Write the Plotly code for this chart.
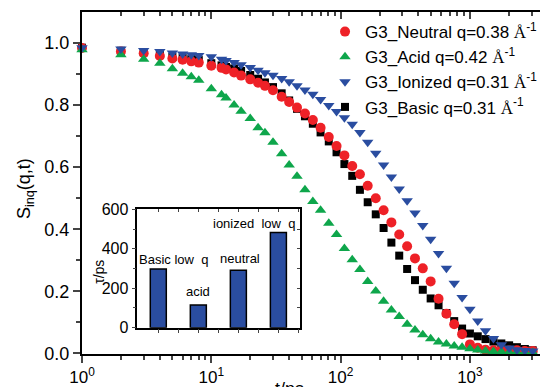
import plotly.graph_objects as go

# time grid (ps)
t = [1, 2, 3, 4, 5, 6, 7, 8, 10, 12, 13, 15, 17, 20, 23, 26, 30, 35, 40, 46,
     53, 61, 70, 81, 93, 107, 123, 141, 162, 187, 215, 247, 284, 327, 376, 432,
     497, 572, 658, 756, 870, 1000, 1150, 1320, 1520, 1750, 2010, 2310, 2660, 3060]

s_neutral = [0.984, 0.973, 0.967, 0.958, 0.950, 0.946, 0.941, 0.937, 0.927, 0.920,
             0.915, 0.905, 0.895, 0.883, 0.872, 0.862, 0.848, 0.827, 0.810, 0.792,
             0.773, 0.752, 0.727, 0.697, 0.668, 0.638, 0.604, 0.577, 0.540, 0.500,
             0.461, 0.422, 0.383, 0.345, 0.306, 0.274, 0.232, 0.176, 0.128, 0.094,
             0.062, 0.029, 0.018, 0.012, 0.010, 0.010, 0.009, 0.010, 0.008, 0.008]

s_acid = [0.978, 0.962, 0.948, 0.935, 0.917, 0.903, 0.891, 0.880, 0.853, 0.833,
          0.823, 0.800, 0.780, 0.757, 0.727, 0.711, 0.680, 0.643, 0.607, 0.571,
          0.527, 0.489, 0.461, 0.419, 0.383, 0.338, 0.302, 0.270, 0.232, 0.201,
          0.168, 0.140, 0.119, 0.094, 0.075, 0.060, 0.047, 0.037, 0.030, 0.024,
          0.020, 0.015, 0.011, 0.008, 0.006, 0.005, 0.004, 0.004, 0.003, 0.003]

s_ionized = [0.985, 0.981, 0.976, 0.973, 0.968, 0.965, 0.962, 0.960, 0.956, 0.948,
             0.944, 0.937, 0.930, 0.921, 0.912, 0.904, 0.896, 0.886, 0.875, 0.862,
             0.849, 0.835, 0.818, 0.799, 0.779, 0.759, 0.738, 0.712, 0.680, 0.645,
             0.607, 0.568, 0.530, 0.492, 0.452, 0.412, 0.368, 0.322, 0.274, 0.226,
             0.180, 0.142, 0.104, 0.073, 0.048, 0.028, 0.017, 0.012, 0.009, 0.008]

s_basic = [0.985, 0.975, 0.970, 0.962, 0.955, 0.952, 0.948, 0.945, 0.935, 0.928,
           0.923, 0.918, 0.910, 0.897, 0.885, 0.873, 0.858, 0.838, 0.815, 0.788,
           0.764, 0.740, 0.712, 0.683, 0.648, 0.610, 0.572, 0.527, 0.487, 0.448,
           0.404, 0.357, 0.315, 0.272, 0.236, 0.205, 0.177, 0.155, 0.130, 0.104,
           0.080, 0.064, 0.055, 0.046, 0.038, 0.032, 0.026, 0.020, 0.014, 0.010]

# inset: relaxation times
tau_pos = [1, 2, 3, 4]
tau_ps = [297, 115, 291, 482]
tau_text = ["Basic\u00a0low\u00a0\u00a0q", "acid", "neutral", "ionized\u00a0\u00a0low\u00a0\u00a0q"]
tau_text_x = [1.38, 2.0, 3.04, 3.39]
tau_text_y = [348, 181, 352, 529]

x_major = [1, 10, 100, 1000]
x_major_text = ["10<sup>0</sup>", "10<sup>1</sup>", "10<sup>2</sup>", "10<sup>3</sup>"]
x_minor = [m * d for d in (1, 10, 100, 1000) for m in range(2, 10)]

RED = "#ee2127"
GREEN = "#0ea64b"
BLUE = "#2a4da0"
BLACK = "#000000"
FONT = "Liberation Sans, Arial, sans-serif"
ANG = "<span style='font-family:Liberation Serif, Times New Roman, serif'>\u00c5</span><sup>-1</sup>"

fig = go.Figure()

series = [
    ("G3_Basic q=0.31 " + ANG, s_basic, BLACK, "square", 8, 4),
    ("G3_Neutral q=0.38 " + ANG, s_neutral, RED, "circle", 10, 1),
    ("G3_Acid q=0.42 " + ANG, s_acid, GREEN, "triangle-up", 10, 2),
    ("G3_Ionized q=0.31 " + ANG, s_ionized, BLUE, "triangle-down", 10, 3),
]
for name, ys, col, sym, size, rank in series:
    fig.add_trace(go.Scatter(
        x=t, y=ys, mode="markers", name=name, legendrank=rank,
        marker=dict(color=col, symbol=sym, size=size, line=dict(width=0)),
        cliponaxis=False, hoverinfo="skip"))

# helper traces so the mirrored tick axes get drawn
fig.add_trace(go.Scatter(x=[1], y=[None], xaxis="x2", yaxis="y",
                         showlegend=False, hoverinfo="skip"))
fig.add_trace(go.Scatter(x=[1], y=[None], xaxis="x4", yaxis="y3",
                         showlegend=False, hoverinfo="skip"))
fig.add_trace(go.Scatter(x=[1], y=[None], xaxis="x3", yaxis="y4",
                         showlegend=False, hoverinfo="skip"))

fig.add_trace(go.Bar(
    x=tau_pos, y=tau_ps, xaxis="x3", yaxis="y3", width=0.4,
    marker=dict(color=BLUE, line=dict(color="black", width=1.5)),
    showlegend=False, hoverinfo="skip"))

XR = [0, 3.542]
INX = [0.1207, 0.476]
INY = [0.0769, 0.4231]

fig.update_layout(
    width=540, height=387,
    margin=dict(l=82, r=0, t=12, b=33, autoexpand=False),
    paper_bgcolor="white", plot_bgcolor="white",
    font=dict(family=FONT, color="black", size=16),
    showlegend=True,
    legend=dict(x=0.5306, y=0.994, xanchor="left", yanchor="top",
                bgcolor="rgba(0,0,0,0)", font=dict(size=17, family=FONT),
                itemsizing="trace", tracegroupgap=0),
    xaxis=dict(type="log", range=XR, showline=True, linewidth=2, linecolor="black",
               mirror=True, ticks="outside", ticklen=7, tickwidth=1.5,
               tickvals=x_major, ticktext=x_major_text, tickfont=dict(size=17),
               minor=dict(ticks="outside", ticklen=4, tickwidth=1.5,
                          tickvals=x_minor, showgrid=False),
               showgrid=False, zeroline=False),
    xaxis2=dict(type="log", range=XR, overlaying="x", side="top", anchor="y",
                ticks="inside", ticklen=7, tickwidth=1.5, tickvals=x_major,
                showticklabels=False, showline=False, showgrid=False, zeroline=False,
                minor=dict(ticks="inside", ticklen=4, tickwidth=1.5,
                           tickvals=x_minor, showgrid=False)),
    yaxis=dict(range=[-0.002, 1.1], showline=True, linewidth=2, linecolor="black",
               mirror=False, ticks="outside", ticklen=7, tickwidth=1.5,
               tickvals=[0, 0.2, 0.4, 0.6, 0.8, 1.0],
               ticktext=["0.0", "0.2", "0.4", "0.6", "0.8", "1.0"],
               tickfont=dict(size=18),
               minor=dict(ticks="outside", ticklen=4, tickwidth=1.5,
                          tickvals=[0.1, 0.3, 0.5, 0.7, 0.9], showgrid=False),
               showgrid=False, zeroline=False),
    xaxis3=dict(domain=INX, anchor="y3", range=[0.475, 4.54], showline=True,
                linewidth=1.5, linecolor="black", ticks="outside", ticklen=4,
                tickwidth=1, tickvals=[1, 1.5, 2, 2.5, 3, 3.5, 4, 4.5],
                showticklabels=False, showgrid=False, zeroline=False, mirror=True),
    xaxis4=dict(overlaying="x3", anchor="y3", side="top", range=[0.475, 4.54],
                ticks="inside", ticklen=3, tickwidth=1,
                tickvals=[1, 1.5, 2, 2.5, 3, 3.5, 4, 4.5], showticklabels=False,
                showline=False, showgrid=False, zeroline=False),
    yaxis3=dict(domain=INY, anchor="x3", range=[0, 600], showline=True,
                linewidth=1.5, linecolor="black", mirror=True, ticks="outside",
                ticklen=4, tickwidth=1, tickvals=[0, 200, 400, 600],
                tickfont=dict(size=16),
                minor=dict(ticks="outside", ticklen=2.5, tickwidth=1,
                           tickvals=[100, 300, 500], showgrid=False),
                showgrid=False, zeroline=False),
    yaxis4=dict(overlaying="y3", anchor="x3", side="right", range=[0, 600],
                ticks="inside", ticklen=3, tickwidth=1,
                tickvals=[0, 100, 200, 300, 400, 500, 600], showticklabels=False,
                showline=False, showgrid=False, zeroline=False),
)

annotations = [
    dict(text="S<sub>inq</sub>(q,t)", xref="paper", yref="paper", x=-0.1245, y=0.485,
         textangle=-90, showarrow=False, font=dict(size=18, family=FONT),
         xanchor="center", yanchor="middle"),
    dict(text="t/ps", xref="paper", yref="paper", x=0.454, y=-0.067,
         showarrow=False, font=dict(size=18, family=FONT),
         xanchor="center", yanchor="top"),
    dict(text="\u03c4/ps", xref="paper", yref="paper", x=0.037, y=0.24,
         textangle=-90, showarrow=False, font=dict(size=14, family=FONT),
         xanchor="center", yanchor="middle"),
]
for txt, ax, ay in zip(tau_text, tau_text_x, tau_text_y):
    annotations.append(dict(text=txt, xref="x3", yref="y3", x=ax, y=ay,
                            showarrow=False, font=dict(size=13, family=FONT),
                            xanchor="center", yanchor="middle"))
fig.update_layout(annotations=annotations)

fig.write_html("out.html")
